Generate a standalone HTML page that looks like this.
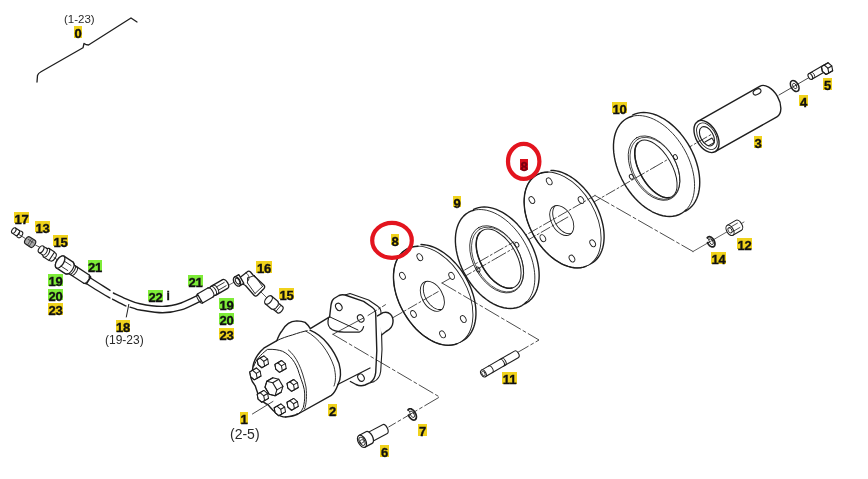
<!DOCTYPE html>
<html><head><meta charset="utf-8"><style>
html,body{margin:0;padding:0;background:#fff;}
body{width:868px;height:479px;position:relative;overflow:hidden;font-family:"Liberation Sans",sans-serif;}
.lb{position:absolute;font-weight:bold;font-size:13px;line-height:16px;text-align:center;letter-spacing:-0.2px;will-change:transform;-webkit-text-stroke:0.35px currentColor;}
.tx{position:absolute;font-size:13px;color:#2a2a2a;line-height:13px;white-space:nowrap;will-change:transform;}
svg{position:absolute;left:0;top:0;}
</style></head><body>
<svg width="868" height="479" viewBox="0 0 868 479" fill="none" stroke="#1e1e1e" stroke-width="1.2" stroke-linecap="round" stroke-linejoin="round">
<g transform="translate(706.50,136.50) rotate(-29.5)"><path d="M0 -17.5 L71 -17.5 A10.5 17.5 0 0 1 71 17.5 L0 17.5 Z" fill="#fff" stroke-width="1.4"/><path d="M0.00 -17.50 A10.50 17.50 0 1 1 0.00 17.50 A10.50 17.50 0 1 1 0.00 -17.50 Z" fill="#fff" stroke-width="1.4"/><path d="M0.50 -14.50 A8.70 14.50 0 1 1 0.50 14.50 A8.70 14.50 0 1 1 0.50 -14.50 Z" stroke-width="0.9"/><path d="M0.50 -10.50 A6.30 10.50 0 1 1 0.50 10.50 A6.30 10.50 0 1 1 0.50 -10.50 Z" stroke-width="1.1"/><path d="M-4 4 L4 4 L4 9 L-3 9" stroke-width="1.0"/><ellipse cx="66" cy="-14" rx="4.2" ry="2.6" stroke-width="1.1"/></g>
<path d="M654.0 167.4 L712.0 134.0" stroke-width="0.8" stroke-dasharray="10 2.5 2 2.5"/>
<g transform="translate(654.00,166.00) rotate(-30)"><path d="M6.00 -54.80 A34.52 54.80 0 1 1 6.00 54.80 A34.52 54.80 0 1 1 6.00 -54.80 Z M6.20 -28.50 A16.00 32.00 0 1 1 6.20 35.50 A16.00 32.00 0 1 1 6.20 -28.50 Z" fill="#fff" fill-rule="evenodd" stroke="none"/><path d="M7.20 -54.77 L9.91 -54.45 L12.59 -53.79 L15.23 -52.81 L17.81 -51.50 L20.32 -49.87 L22.74 -47.93 L25.06 -45.70 L27.26 -43.18 L29.32 -40.40 L31.25 -37.37 L33.02 -34.11 L34.62 -30.64 L36.05 -26.98 L37.29 -23.16 L38.34 -19.19 L39.19 -15.10 L39.83 -10.93 L40.27 -6.68 L40.49 -2.39 L40.50 1.91 L40.30 6.20 L39.89 10.46 L39.27 14.64 L38.44 18.74 L37.42 22.73 L36.20 26.57 L34.79 30.25 L33.21 33.74 L31.45 37.02 L29.55 40.08 L27.49 42.89 L25.31 45.43 L23.00 47.70 L20.59 49.67 L18.09 51.33 L15.52 52.68 L12.88 53.70 L10.21 54.39 L7.51 54.75 L4.80 54.77" stroke-width="1.4"/><path d="M0.00 -54.80 A34.52 54.80 0 1 1 0.00 54.80 A34.52 54.80 0 1 1 0.00 -54.80 Z M0.20 -28.50 A16.00 32.00 0 1 1 0.20 35.50 A16.00 32.00 0 1 1 0.20 -28.50 Z" stroke="none" fill="#fff" fill-rule="evenodd"/><path d="M6.00 53.97 L3.01 54.59 L0.00 54.80 L-3.01 54.59 L-6.00 53.97 L-8.94 52.93 L-11.81 51.50 L-14.59 49.67 L-17.26 47.46 L-19.80 44.89 L-22.19 41.98 L-24.41 38.75 L-26.45 35.22 L-28.28 31.43 L-29.90 27.40 L-31.29 23.16 L-32.44 18.74 L-33.35 14.18 L-34.00 9.52 L-34.39 4.78 L-34.52 0.00 L-34.39 -4.78 L-34.00 -9.52 L-33.35 -14.18 L-32.44 -18.74 L-31.29 -23.16 L-29.90 -27.40 L-28.28 -31.43 L-26.45 -35.22 L-24.41 -38.75 L-22.19 -41.98 L-19.80 -44.89 L-17.26 -47.46 L-14.59 -49.67 L-11.81 -51.50 L-8.94 -52.93 L-6.00 -53.97 L-3.01 -54.59 L-0.00 -54.80 L3.01 -54.59 L6.00 -53.97" stroke-width="1.4"/><path d="M6.00 -53.97 L8.35 -53.17 L10.67 -52.12 L12.93 -50.81 L15.13 -49.25 L17.26 -47.46 L19.31 -45.43 L21.26 -43.18 L23.10 -40.72 L24.83 -38.07 L26.45 -35.22 L27.93 -32.21 L29.28 -29.04 L30.48 -25.73 L31.54 -22.29 L32.44 -18.74 L33.19 -15.10 L33.77 -11.39 L34.19 -7.63 L34.44 -3.82 L34.52 0.00 L34.44 3.82 L34.19 7.63 L33.77 11.39 L33.19 15.10 L32.44 18.74 L31.54 22.29 L30.48 25.73 L29.28 29.04 L27.93 32.21 L26.45 35.22 L24.83 38.07 L23.10 40.72 L21.26 43.18 L19.31 45.43 L17.26 47.46 L15.13 49.25 L12.93 50.81 L10.67 52.12 L8.35 53.17 L6.00 53.97" stroke-width="0.8"/><path d="M-1.00 -33.20 A22.05 35.00 0 1 1 -1.00 36.80 A22.05 35.00 0 1 1 -1.00 -33.20 Z" stroke-width="0.8"/><path d="M-0.40 -31.30 A21.23 33.70 0 1 1 -0.40 36.10 A21.23 33.70 0 1 1 -0.40 -31.30 Z" stroke-width="0.7"/><path d="M0.20 -28.50 A16.00 32.00 0 1 1 0.20 35.50 A16.00 32.00 0 1 1 0.20 -28.50 Z" stroke-width="1.0"/><path d="M-2.58 35.01 L-3.67 34.55 L-4.74 33.93 L-5.79 33.17 L-6.81 32.26 L-7.80 31.21 L-8.75 30.03 L-9.65 28.72 L-10.51 27.28 L-11.31 25.73 L-12.06 24.07 L-12.74 22.31 L-13.37 20.46 L-13.93 18.52 L-14.42 16.52 L-14.84 14.44 L-15.18 12.32 L-15.45 10.15 L-15.64 7.95 L-15.76 5.73 L-15.80 3.50 L-15.76 1.27 L-15.64 -0.95 L-15.45 -3.15 L-15.18 -5.32 L-14.84 -7.44 L-14.42 -9.52 L-13.93 -11.52 L-13.37 -13.46 L-12.74 -15.31 L-12.06 -17.07 L-11.31 -18.73 L-10.51 -20.28 L-9.65 -21.72 L-8.75 -23.03 L-7.80 -24.21 L-6.81 -25.26 L-5.79 -26.17 L-4.74 -26.93 L-3.67 -27.55 L-2.58 -28.01" stroke-width="1.5"/><ellipse cx="23" cy="3" rx="1.8" ry="2.6" stroke-width="0.9"/><ellipse cx="-25" cy="-2" rx="1.8" ry="2.6" stroke-width="0.9"/></g>
<path d="M562.0 220.4 L654.0 167.4" stroke-width="0.8" stroke-dasharray="10 2.5 2 2.5"/>
<g transform="translate(562.60,220.00) rotate(-30)"><path d="M14.70 -48.86 L16.96 -47.41 L19.13 -45.70 L21.22 -43.73 L23.22 -41.53 L25.10 -39.10 L26.87 -36.45 L28.50 -33.60 L30.00 -30.56 L31.36 -27.36 L32.56 -24.01 L33.60 -20.53 L34.48 -16.93 L35.18 -13.24 L35.71 -9.48 L36.07 -5.66 L36.24 -1.81 L36.23 2.04 L36.05 5.89 L35.69 9.70 L35.14 13.46 L34.43 17.14 L33.54 20.73 L32.49 24.21 L31.28 27.56 L29.92 30.75 L28.41 33.77 L26.77 36.61 L24.99 39.24 L23.10 41.67 L21.10 43.86 L19.01 45.81 L16.82 47.50 L14.57 48.94 L12.25 50.11 L9.89 51.00 L7.49 51.61 L5.07 51.94 L2.64 51.98 L0.22 51.74 L-2.19 51.21" fill="#fff" stroke-width="1.4"/><path d="M0.00 -52.00 A32.76 52.00 0 1 1 0.00 52.00 A32.76 52.00 0 1 1 0.00 -52.00 Z M-1.00 -16.30 A10.27 16.30 0 1 1 -1.00 16.30 A10.27 16.30 0 1 1 -1.00 -16.30 Z" fill="#fff" fill-rule="evenodd" stroke-width="0.9"/><path d="M-2.86 51.80 L-5.62 51.23 L-8.34 50.29 L-11.00 48.98 L-13.59 47.32 L-16.07 45.31 L-18.44 42.98 L-20.67 40.34 L-22.76 37.41 L-24.68 34.20 L-26.42 30.75 L-27.97 27.07 L-29.32 23.20 L-30.45 19.16 L-31.37 14.99 L-32.06 10.70 L-32.52 6.34 L-32.74 1.93 L-32.72 -2.49 L-32.47 -6.90 L-31.98 -11.25 L-31.27 -15.53 L-30.32 -19.69 L-29.16 -23.71 L-27.78 -27.56 L-26.21 -31.20 L-24.44 -34.63 L-22.50 -37.80 L-20.39 -40.70 L-18.14 -43.30 L-15.76 -45.59 L-13.26 -47.55 L-10.67 -49.17 L-7.99 -50.43 L-5.27 -51.32 L-2.50 -51.85 L0.29 -52.00 L3.07 -51.77 L5.83 -51.17 L8.55 -50.20 L11.20 -48.86" stroke-width="1.4"/><path d="M0.72 16.05 L0.02 15.82 L-0.67 15.50 L-1.35 15.11 L-2.00 14.65 L-2.63 14.12 L-3.24 13.51 L-3.82 12.84 L-4.37 12.11 L-4.89 11.32 L-5.37 10.48 L-5.81 9.58 L-6.21 8.64 L-6.57 7.65 L-6.88 6.63 L-7.15 5.57 L-7.37 4.49 L-7.54 3.39 L-7.67 2.27 L-7.74 1.14 L-7.77 0.00 L-7.74 -1.14 L-7.67 -2.27 L-7.54 -3.39 L-7.37 -4.49 L-7.15 -5.57 L-6.88 -6.63 L-6.57 -7.65 L-6.21 -8.64 L-5.81 -9.58 L-5.37 -10.48 L-4.89 -11.32 L-4.37 -12.11 L-3.82 -12.84 L-3.24 -13.51 L-2.63 -14.12 L-2.00 -14.65 L-1.35 -15.11 L-0.67 -15.50 L0.02 -15.82 L0.72 -16.05" stroke-width="0.9"/><ellipse cx="7.74" cy="-40.16" rx="2.5" ry="3.7" stroke-width="0.9"/><ellipse cx="-16.65" cy="-32.64" rx="2.5" ry="3.7" stroke-width="0.9"/><ellipse cx="-26.20" cy="5.85" rx="2.5" ry="3.7" stroke-width="0.9"/><ellipse cx="-11.18" cy="38.06" rx="2.5" ry="3.7" stroke-width="0.9"/><ellipse cx="14.41" cy="35.22" rx="2.5" ry="3.7" stroke-width="0.9"/><ellipse cx="25.97" cy="-8.01" rx="2.5" ry="3.7" stroke-width="0.9"/></g>
<path d="M497.0 257.8 L562.0 220.4" stroke-width="0.8" stroke-dasharray="10 2.5 2 2.5"/>
<path d="M514.0 241.8 L595.0 195.5" stroke-width="0.8" stroke-dasharray="10 2.5 2 2.5"/>
<g transform="translate(495.10,259.00) rotate(-30)"><path d="M5.00 -53.70 A33.83 53.70 0 1 1 5.00 53.70 A33.83 53.70 0 1 1 5.00 -53.70 Z M8.20 -31.00 A17.88 32.50 0 1 1 8.20 34.00 A17.88 32.50 0 1 1 8.20 -31.00 Z" fill="#fff" fill-rule="evenodd" stroke="none"/><path d="M6.18 -53.67 L8.83 -53.35 L11.46 -52.71 L14.04 -51.75 L16.57 -50.46 L19.03 -48.86 L21.40 -46.97 L23.67 -44.78 L25.83 -42.32 L27.86 -39.59 L29.74 -36.62 L31.48 -33.43 L33.05 -30.03 L34.45 -26.44 L35.66 -22.69 L36.69 -18.81 L37.52 -14.80 L38.15 -10.71 L38.58 -6.54 L38.80 -2.34 L38.81 1.87 L38.61 6.08 L38.21 10.25 L37.60 14.35 L36.79 18.37 L35.78 22.27 L34.59 26.03 L33.21 29.64 L31.66 33.06 L29.94 36.28 L28.07 39.27 L26.06 42.03 L23.92 44.52 L21.66 46.74 L19.30 48.67 L16.85 50.30 L14.33 51.62 L11.74 52.62 L9.12 53.30 L6.48 53.65 L3.82 53.67" stroke-width="1.4"/><path d="M0.00 -53.70 A33.83 53.70 0 1 1 0.00 53.70 A33.83 53.70 0 1 1 0.00 -53.70 Z M3.20 -31.00 A17.88 32.50 0 1 1 3.20 34.00 A17.88 32.50 0 1 1 3.20 -31.00 Z" stroke="none" fill="#fff" fill-rule="evenodd"/><path d="M5.87 52.88 L2.95 53.50 L0.00 53.70 L-2.95 53.50 L-5.87 52.88 L-8.76 51.87 L-11.57 50.46 L-14.30 48.67 L-16.92 46.51 L-19.40 43.99 L-21.75 41.14 L-23.92 37.97 L-25.92 34.52 L-27.71 30.80 L-29.30 26.85 L-30.66 22.69 L-31.79 18.37 L-32.68 13.90 L-33.32 9.32 L-33.70 4.68 L-33.83 0.00 L-33.70 -4.68 L-33.32 -9.32 L-32.68 -13.90 L-31.79 -18.37 L-30.66 -22.69 L-29.30 -26.85 L-27.71 -30.80 L-25.92 -34.52 L-23.92 -37.97 L-21.75 -41.14 L-19.40 -43.99 L-16.92 -46.51 L-14.30 -48.67 L-11.57 -50.46 L-8.76 -51.87 L-5.87 -52.88 L-2.95 -53.50 L-0.00 -53.70 L2.95 -53.50 L5.87 -52.88" stroke-width="1.4"/><path d="M5.87 -52.88 L8.18 -52.10 L10.45 -51.07 L12.67 -49.79 L14.83 -48.27 L16.92 -46.51 L18.92 -44.52 L20.83 -42.32 L22.64 -39.91 L24.34 -37.30 L25.92 -34.52 L27.37 -31.56 L28.69 -28.46 L29.87 -25.21 L30.91 -21.84 L31.79 -18.37 L32.52 -14.80 L33.09 -11.16 L33.50 -7.47 L33.75 -3.75 L33.83 0.00 L33.75 3.75 L33.50 7.47 L33.09 11.16 L32.52 14.80 L31.79 18.37 L30.91 21.84 L29.87 25.21 L28.69 28.46 L27.37 31.56 L25.92 34.52 L24.34 37.30 L22.64 39.91 L20.83 42.32 L18.92 44.52 L16.92 46.51 L14.83 48.27 L12.67 49.79 L10.45 51.07 L8.18 52.10 L5.87 52.88" stroke-width="0.8"/><path d="M1.20 -35.50 A23.00 36.50 0 1 1 1.20 37.50 A23.00 36.50 0 1 1 1.20 -35.50 Z" stroke-width="0.8"/><path d="M1.80 -33.60 A22.18 35.20 0 1 1 1.80 36.80 A22.18 35.20 0 1 1 1.80 -33.60 Z" stroke-width="0.7"/><path d="M3.20 -31.00 A17.88 32.50 0 1 1 3.20 34.00 A17.88 32.50 0 1 1 3.20 -31.00 Z" stroke-width="1.0"/><path d="M0.10 33.51 L-1.12 33.03 L-2.32 32.41 L-3.50 31.63 L-4.64 30.71 L-5.74 29.65 L-6.80 28.44 L-7.80 27.11 L-8.76 25.65 L-9.66 24.08 L-10.49 22.39 L-11.26 20.60 L-11.96 18.72 L-12.58 16.76 L-13.13 14.72 L-13.60 12.62 L-13.98 10.46 L-14.28 8.26 L-14.50 6.02 L-14.63 3.77 L-14.68 1.50 L-14.63 -0.77 L-14.50 -3.02 L-14.28 -5.26 L-13.98 -7.46 L-13.60 -9.62 L-13.13 -11.72 L-12.58 -13.76 L-11.96 -15.72 L-11.26 -17.60 L-10.49 -19.39 L-9.66 -21.08 L-8.76 -22.65 L-7.80 -24.11 L-6.80 -25.44 L-5.74 -26.65 L-4.64 -27.71 L-3.50 -28.63 L-2.32 -29.41 L-1.12 -30.03 L0.10 -30.51" stroke-width="1.5"/><ellipse cx="26" cy="-1.5" rx="1.8" ry="2.6" stroke-width="0.9"/><ellipse cx="-20" cy="0.5" rx="1.8" ry="2.6" stroke-width="0.9"/></g>
<path d="M433.0 294.6 L497.0 257.8" stroke-width="0.8" stroke-dasharray="10 2.5 2 2.5"/>
<path d="M450.0 278.4 L514.0 241.8" stroke-width="0.8" stroke-dasharray="10 2.5 2 2.5"/>
<g transform="translate(433.20,295.80) rotate(-30)"><path d="M15.07 -50.46 L17.40 -48.96 L19.64 -47.19 L21.80 -45.16 L23.86 -42.89 L25.81 -40.37 L27.63 -37.64 L29.32 -34.70 L30.87 -31.56 L32.27 -28.26 L33.51 -24.80 L34.58 -21.20 L35.49 -17.48 L36.22 -13.67 L36.76 -9.79 L37.13 -5.85 L37.31 -1.87 L37.30 2.11 L37.11 6.08 L36.74 10.02 L36.18 13.90 L35.44 17.70 L34.53 21.41 L33.44 25.00 L32.19 28.46 L30.78 31.75 L29.23 34.88 L27.53 37.81 L25.70 40.53 L23.74 43.03 L21.68 45.29 L19.51 47.30 L17.26 49.06 L14.93 50.54 L12.54 51.75 L10.10 52.67 L7.62 53.30 L5.12 53.64 L2.61 53.68 L0.11 53.43 L-2.37 52.88" fill="#fff" stroke-width="1.4"/><path d="M0.00 -53.70 A33.83 53.70 0 1 1 0.00 53.70 A33.83 53.70 0 1 1 0.00 -53.70 Z M-1.00 -16.30 A10.27 16.30 0 1 1 -1.00 16.30 A10.27 16.30 0 1 1 -1.00 -16.30 Z" fill="#fff" fill-rule="evenodd" stroke-width="0.9"/><path d="M-2.95 53.50 L-5.80 52.90 L-8.61 51.93 L-11.36 50.58 L-14.03 48.86 L-16.59 46.80 L-19.04 44.39 L-21.35 41.66 L-23.50 38.63 L-25.48 35.32 L-27.28 31.75 L-28.88 27.96 L-30.28 23.96 L-31.45 19.79 L-32.40 15.48 L-33.11 11.05 L-33.58 6.54 L-33.81 1.99 L-33.79 -2.58 L-33.53 -7.13 L-33.03 -11.62 L-32.29 -16.04 L-31.31 -20.33 L-30.11 -24.48 L-28.69 -28.46 L-27.06 -32.22 L-25.24 -35.76 L-23.23 -39.03 L-21.06 -42.03 L-18.73 -44.71 L-16.27 -47.08 L-13.69 -49.10 L-11.01 -50.77 L-8.26 -52.08 L-5.44 -53.00 L-2.58 -53.54 L0.30 -53.70 L3.17 -53.46 L6.02 -52.84 L8.83 -51.84 L11.57 -50.46" stroke-width="1.4"/><path d="M0.72 16.05 L0.02 15.82 L-0.67 15.50 L-1.35 15.11 L-2.00 14.65 L-2.63 14.12 L-3.24 13.51 L-3.82 12.84 L-4.37 12.11 L-4.89 11.32 L-5.37 10.48 L-5.81 9.58 L-6.21 8.64 L-6.57 7.65 L-6.88 6.63 L-7.15 5.57 L-7.37 4.49 L-7.54 3.39 L-7.67 2.27 L-7.74 1.14 L-7.77 0.00 L-7.74 -1.14 L-7.67 -2.27 L-7.54 -3.39 L-7.37 -4.49 L-7.15 -5.57 L-6.88 -6.63 L-6.57 -7.65 L-6.21 -8.64 L-5.81 -9.58 L-5.37 -10.48 L-4.89 -11.32 L-4.37 -12.11 L-3.82 -12.84 L-3.24 -13.51 L-2.63 -14.12 L-2.00 -14.65 L-1.35 -15.11 L-0.67 -15.50 L0.02 -15.82 L0.72 -16.05" stroke-width="0.9"/><ellipse cx="7.74" cy="-40.16" rx="2.5" ry="3.7" stroke-width="0.9"/><ellipse cx="-16.65" cy="-32.64" rx="2.5" ry="3.7" stroke-width="0.9"/><ellipse cx="-26.20" cy="5.85" rx="2.5" ry="3.7" stroke-width="0.9"/><ellipse cx="-11.18" cy="38.06" rx="2.5" ry="3.7" stroke-width="0.9"/><ellipse cx="14.41" cy="35.22" rx="2.5" ry="3.7" stroke-width="0.9"/><ellipse cx="25.97" cy="-8.01" rx="2.5" ry="3.7" stroke-width="0.9"/></g>
<path d="M393.4 317.4 L433.0 294.6" stroke-width="0.8" stroke-dasharray="10 2.5 2 2.5"/>
<path d="M442.0 283.0 L450.0 278.4" stroke-width="0.8" stroke-dasharray="10 2.5 2 2.5"/>
<path d="M779 95 L810 77" stroke-width="0.8"/>
<path d="M442 283 L539 340 L517.5 352.5" stroke-width="0.8" stroke-dasharray="16 3 3 3"/>
<path d="M595 195.5 L693 251.5" stroke-width="0.8" stroke-dasharray="16 3 3 3"/>
<path d="M693 251.5 L744 222" stroke-width="0.7"/>
<path d="M345 295 L350 293.5 L368.6 300 L377.4 306 C379.5 307.5 381 309.5 381 312.5 L382 349.5 L380.7 371.2 C380 376.5 378 379.5 374 381.6 L370.2 382.6" fill="#fff" stroke-width="1.1"/>
<path d="M329.6 316.8 L331 305 C331.5 301 332 300 334 298.5 L339 295.5 C341 294.5 343 294.5 345 295 L363.6 301.4 L372.4 307.5 C374.5 309 375.7 311 375.7 314 L376.8 350.8 L375.7 372.7 C375 378 373 381 370.2 382.6 L365 385 C362 386.2 359 386 356 384.5 L350.4 381.5" fill="#fff" stroke-width="1.4"/>
<path d="M377.5 315.9 L383 312.7 C389 310.5 393.5 316 393 322 C392.7 327 390 329.5 386 331.5 L381.9 334.7" fill="#fff" stroke-width="1.4"/>
<ellipse cx="338.8" cy="306.9" rx="3" ry="3.9" transform="rotate(-30 338.8 306.9)" stroke-width="1.1"/>
<ellipse cx="360.7" cy="318.4" rx="3" ry="3.9" transform="rotate(-30 360.7 318.4)" stroke-width="1.1"/>
<ellipse cx="361" cy="377.6" rx="3" ry="3.9" transform="rotate(-30 361 377.6)" stroke-width="1.1"/>
<path d="M252.5 370 C253 362 256 355 263.8 348.2 L276.9 340.6 C278.5 336 280 333 282.1 330.7 C284 327.5 286 325 288.4 323.4 C291 321.5 294 321 296.8 320.9 C300 321 303 321.5 305.1 322.4 C307 324 309 326.5 310.3 328.6 L329.6 316.8" stroke-width="1.4"/>
<path d="M329.6 316.8 L358 330" stroke-width="1.0"/>
<path d="M328.5 318 C327.5 322 328 325.5 330 328 C333 331 338 332 343.9 332.1 L359.2 332.1 C361.5 331.5 363 329 363.6 326.7" stroke-width="1.2"/>
<path d="M276 341.1 C282 338 287 336.5 292.6 334.9 C298 333 303 331.5 307.2 330.7" stroke-width="1.0"/>
<path d="M310 330.2 C324 336 334 350 339 363.4 C341.3 372 341 379 338 384.5" stroke-width="1.4"/>
<path d="M306 331.2 C319 338 329 352 334 366.7 C336 375 336 381 334 386" stroke-width="0.9"/>
<path d="M285.7 417 C291 416.5 295 415.5 298 414 L331.3 395.3 C334 393.5 336 390 338 384.5" stroke-width="1.4"/>
<path d="M337.6 384.5 L370 368" stroke-width="1.3"/>
<path d="M252.5 370 C249.5 376 250.4 380 255.2 385.8 C257 391 258 395 260 398 C263 402 266 404 268 404.7 C271 408 273 411 276.2 412.9 C279 415.5 282 417 285.7 417" stroke-width="1.4"/>
<path d="M253.8 366.3 C256 360 260 355 267.5 349.4 C274 349 279 350 282.6 351.3 C290 355 296 362 299.2 373.6 C302 382 304.7 388 304.7 393.9 C305 400 304 404 303.3 407.5 C301 412 299 414 296.5 414.2" stroke-width="1.0"/>
<path d="M288.4 350 C296 356 302 368 306 387 C307 396 306.5 404 304.5 409" stroke-width="0.9"/>
<g transform="translate(257.30,372.80) rotate(-30)" stroke-width="1.0"><path d="M-7.79 0.00 L-6.14 -4.59 L1.64 -4.59 L3.29 0.00 L1.64 4.59 L-6.14 4.59 Z" fill="#fff"/><path d="M-1.21 0.00 L-2.86 4.59 L-6.14 4.59 L-7.79 0.00 L-6.14 -4.59 L-2.86 -4.59 Z"/><path d="M-1.21 0.00 L3.29 0.00"/><path d="M-2.86 4.59 L1.64 4.59"/><path d="M-2.86 -4.59 L1.64 -4.59"/></g>
<g transform="translate(264.80,360.70) rotate(-30)" stroke-width="1.0"><path d="M-7.79 0.00 L-6.14 -4.59 L1.64 -4.59 L3.29 0.00 L1.64 4.59 L-6.14 4.59 Z" fill="#fff"/><path d="M-1.21 0.00 L-2.86 4.59 L-6.14 4.59 L-7.79 0.00 L-6.14 -4.59 L-2.86 -4.59 Z"/><path d="M-1.21 0.00 L3.29 0.00"/><path d="M-2.86 4.59 L1.64 4.59"/><path d="M-2.86 -4.59 L1.64 -4.59"/></g>
<g transform="translate(282.50,365.30) rotate(-30)" stroke-width="1.0"><path d="M-7.79 0.00 L-6.14 -4.59 L1.64 -4.59 L3.29 0.00 L1.64 4.59 L-6.14 4.59 Z" fill="#fff"/><path d="M-1.21 0.00 L-2.86 4.59 L-6.14 4.59 L-7.79 0.00 L-6.14 -4.59 L-2.86 -4.59 Z"/><path d="M-1.21 0.00 L3.29 0.00"/><path d="M-2.86 4.59 L1.64 4.59"/><path d="M-2.86 -4.59 L1.64 -4.59"/></g>
<g transform="translate(294.60,384.30) rotate(-30)" stroke-width="1.0"><path d="M-7.79 0.00 L-6.14 -4.59 L1.64 -4.59 L3.29 0.00 L1.64 4.59 L-6.14 4.59 Z" fill="#fff"/><path d="M-1.21 0.00 L-2.86 4.59 L-6.14 4.59 L-7.79 0.00 L-6.14 -4.59 L-2.86 -4.59 Z"/><path d="M-1.21 0.00 L3.29 0.00"/><path d="M-2.86 4.59 L1.64 4.59"/><path d="M-2.86 -4.59 L1.64 -4.59"/></g>
<g transform="translate(264.80,395.20) rotate(-30)" stroke-width="1.0"><path d="M-7.79 0.00 L-6.14 -4.59 L1.64 -4.59 L3.29 0.00 L1.64 4.59 L-6.14 4.59 Z" fill="#fff"/><path d="M-1.21 0.00 L-2.86 4.59 L-6.14 4.59 L-7.79 0.00 L-6.14 -4.59 L-2.86 -4.59 Z"/><path d="M-1.21 0.00 L3.29 0.00"/><path d="M-2.86 4.59 L1.64 4.59"/><path d="M-2.86 -4.59 L1.64 -4.59"/></g>
<g transform="translate(294.60,403.20) rotate(-30)" stroke-width="1.0"><path d="M-7.79 0.00 L-6.14 -4.59 L1.64 -4.59 L3.29 0.00 L1.64 4.59 L-6.14 4.59 Z" fill="#fff"/><path d="M-1.21 0.00 L-2.86 4.59 L-6.14 4.59 L-7.79 0.00 L-6.14 -4.59 L-2.86 -4.59 Z"/><path d="M-1.21 0.00 L3.29 0.00"/><path d="M-2.86 4.59 L1.64 4.59"/><path d="M-2.86 -4.59 L1.64 -4.59"/></g>
<g transform="translate(281.80,408.70) rotate(-30)" stroke-width="1.0"><path d="M-7.79 0.00 L-6.14 -4.59 L1.64 -4.59 L3.29 0.00 L1.64 4.59 L-6.14 4.59 Z" fill="#fff"/><path d="M-1.21 0.00 L-2.86 4.59 L-6.14 4.59 L-7.79 0.00 L-6.14 -4.59 L-2.86 -4.59 Z"/><path d="M-1.21 0.00 L3.29 0.00"/><path d="M-2.86 4.59 L1.64 4.59"/><path d="M-2.86 -4.59 L1.64 -4.59"/></g>
<g transform="translate(277.00,385.00) rotate(-30)" stroke-width="1.1"><path d="M-11.46 -4.15 L-7.00 -8.30 L-0.00 -8.30 L4.46 -4.15 L4.46 4.15 L0.00 8.30 L-7.00 8.30 L-11.46 4.15 Z" fill="#fff"/><path d="M-2.54 4.15 L-7.00 8.30 L-11.46 4.15 L-11.46 -4.15 L-7.00 -8.30 L-2.54 -4.15 Z"/><path d="M-2.54 4.15 L4.46 4.15"/><path d="M-7.00 8.30 L0.00 8.30"/><path d="M-7.00 -8.30 L-0.00 -8.30"/><path d="M-2.54 -4.15 L4.46 -4.15"/></g>
<path d="M19 234.5 L25 238.3 M35.7 245.2 L39.4 247 M54 257.5 L59 261" stroke-width="0.8"/>
<g transform="translate(16.5,232.3) rotate(33) scale(0.8)"><path d="M-4 -3.8 L3 -3.8 L3 3.8 L-4 3.8" fill="#fff" stroke-width="1.4"/><ellipse cx="-4" cy="0" rx="2.3" ry="3.8" fill="#fff" stroke-width="1.4"/><path d="M1.5 -3.8 A2.3 3.8 0 0 1 1.5 3.8" stroke-width="1.1"/><path d="M4 -4.4 L5.5 -4.4 A2.5 4.4 0 0 1 5.5 4.4 L4 4.4" stroke-width="1.3"/></g>
<g transform="translate(30.3,242.2) rotate(33) scale(0.82)"><path d="M-4 -5 L3.5 -5 A2.8 5 0 0 1 3.5 5 L-4 5 A2.8 5 0 0 1 -4 -5 Z" fill="#aaa" stroke-width="1.4"/><path d="M-1 -5 L-1 5 M1.5 -5 L1.5 5 M-4 -1.5 L3.5 -1.5" stroke="#333" stroke-width="0.8"/></g>
<g transform="translate(47.5,253.5) rotate(33) scale(0.85)"><path d="M-9 -4.5 L-4 -4.5 L-2 -6 L6 -6 L6 6 L-2 6 L-4 4.5 L-9 4.5" fill="#fff" stroke-width="1.3"/><ellipse cx="-9" cy="0" rx="2.7" ry="4.5" fill="#fff" stroke-width="1.3"/><path d="M-4.5 -4.8 A2.8 4.8 0 0 1 -4.5 4.8 M-2 -6 A3.3 6 0 0 1 -2 6" stroke-width="1.1"/><path d="M6.5 -5.5 L7.5 -5.5 A3 5.5 0 0 1 7.5 5.5 L6.5 5.5" stroke-width="1.3"/></g>
<g transform="translate(66,265.8) rotate(33)"><path d="M-7 -7 L4 -7 L7 -5 L24 -5 L27 -4 L27 4 L24 5 L7 5 L4 7 L-7 7 A3.5 7 0 0 1 -7 -7 Z" fill="#fff" stroke-width="1.3"/><ellipse cx="-7" cy="0" rx="3.5" ry="7" fill="#fff" stroke-width="1.3"/><path d="M4 -7 A3.5 7 0 0 1 4 7 M7 -5 A2.5 5 0 0 1 7 5 M9.5 -5 A2.5 5 0 0 1 9.5 5 M24 -5 A2.5 5 0 0 1 24 5" stroke-width="1.0"/><path d="M-4 -3 L4 -3 M-4 3 L4 3" stroke-width="0.8"/></g>
<path d="M89.00 277.00 C90.83 278.17 96.50 281.77 100.00 284.00 C103.50 286.23 108.33 289.33 110.00 290.40" stroke-width="1.4"/>
<path d="M113.40 293.00 C115.50 293.97 121.57 297.00 126.00 298.80 C130.43 300.60 133.90 302.53 140.00 303.80 C146.10 305.07 155.77 306.53 162.60 306.40 C169.43 306.27 174.85 304.98 181.00 303.00 C187.15 301.02 196.42 295.92 199.50 294.50" stroke-width="1.4"/>
<path d="M87.00 284.00 C89.00 285.25 95.17 289.17 99.00 291.50 C102.83 293.83 108.17 296.92 110.00 298.00" stroke-width="1.4"/>
<path d="M112.50 299.20 C113.58 299.77 116.77 301.48 119.00 302.60 C121.23 303.72 124.75 305.35 125.90 305.90" stroke-width="1.4"/>
<path d="M130.00 307.10 C130.83 307.35 133.33 308.12 135.00 308.60 C136.67 309.08 135.40 309.30 140.00 310.00 C144.60 310.70 155.77 312.82 162.60 312.80 C169.43 312.78 174.68 311.83 181.00 309.90 C187.32 307.97 197.25 302.65 200.50 301.20" stroke-width="1.4"/>
<path d="M128.8 304.4 L126.3 317" stroke-width="1.0"/>
<g transform="translate(200,298.5) rotate(-30)"><path d="M0 -5.2 L12 -5.2 L14 -4.5 L15 -5 L29 -5 A2.8 5 0 0 1 29 5 L15 5 L14 4.5 L12 5.2 L0 5.2 Z" fill="#fff" stroke-width="1.3"/><path d="M0 -5.2 A2.2 5.2 0 0 0 0 5.2 M12 -5.2 A2.6 5.2 0 0 1 12 5.2 M15 -5 A2.8 5 0 0 1 15 5 M17.5 -5 A2.8 5 0 0 1 17.5 5" stroke-width="1.0"/><path d="M20 -1.8 L29 -1.8 M20 2 L29 2" stroke-width="0.8"/></g>
<path d="M229 285 L238 280" stroke-width="0.7"/>
<path d="M240 277.5 L247 272 C248 271 249.5 271 250.5 272 L253 275 L263.8 285 C264.8 286 264.8 287.5 264 288.5 L257.5 295.2 C256.5 296.2 255 296.2 254 295.3 L245.5 285.5 L241 283" fill="#fff" stroke-width="1.3"/>
<path d="M247.5 278 L254.5 275.5 M254.5 275.5 L262.5 286.5 M262.5 286.5 L255 293.5 M255 293.5 L247.5 283 M247.5 278 L247.5 283" stroke-width="0.9"/>
<path d="M246 272.8 C249 275 250 278 248 281" stroke-width="0.9"/>
<g transform="translate(237,281.5) rotate(-30)"><path d="M0 -5 L5 -5 L5 5 L0 5" fill="#fff" stroke-width="1.3"/><ellipse cx="0" cy="0" rx="3" ry="5" fill="#fff" stroke-width="1.4"/><ellipse cx="0.6" cy="0" rx="1.8" ry="3.2" stroke-width="1.0"/></g>
<path d="M261 292 L267 298" stroke-width="0.7"/>
<g transform="translate(268.5,300) rotate(40)"><path d="M0 -5 L8 -5 L10 -4 L15 -4 A2.2 4 0 0 1 15 4 L10 4 L8 5 L0 5 Z" fill="#fff" stroke-width="1.2"/><ellipse cx="0" cy="0" rx="2.8" ry="5" fill="#fff" stroke-width="1.2"/><path d="M8 -5 A2.8 5 0 0 1 8 5 M11 -4 L11 4 M13 -4 L13 4" stroke-width="0.8"/></g>
<g transform="translate(362,441.3) rotate(-28)"><path d="M8 -5 L26 -5 A2.6 5 0 0 1 26 5 L8 5" fill="#fff" stroke-width="1.1"/><path d="M0 -6.6 L8 -6.6 A3.6 6.6 0 0 1 8 6.6 L0 6.6" fill="#fff" stroke-width="1.2"/><ellipse cx="0" cy="0" rx="3.8" ry="6.6" fill="#fff" stroke-width="1.2"/><ellipse cx="0" cy="0" rx="2.6" ry="4.4" stroke-width="0.9"/><path d="M-1.5 -1.5 L1.5 -1.5 L1.5 1.5 L-1.5 1.5Z" stroke-width="0.7"/></g>
<g transform="translate(412,414.4) rotate(-30)"><path d="M-1.23 -5.83 L-0.78 -6.05 L-0.31 -6.18 L0.16 -6.19 L0.63 -6.11 L1.08 -5.91 L1.52 -5.62 L1.93 -5.23 L2.31 -4.75 L2.65 -4.19 L2.95 -3.56 L3.19 -2.86 L3.38 -2.12 L3.51 -1.34 L3.59 -0.54 L3.60 0.27 L3.55 1.08 L3.43 1.86 L3.26 2.62 L3.04 3.33 L2.76 3.99 L2.43 4.57 L2.06 5.08 L1.66 5.50 L1.23 5.83 L0.78 6.05 L0.31 6.18 L-0.16 6.19 L-0.63 6.11 L-1.08 5.91 L-1.52 5.62 L-1.93 5.23 L-2.31 4.75 L-2.65 4.19 L-2.95 3.56 L-3.19 2.86 L-3.38 2.12 L-3.51 1.34 L-3.59 0.54 L-3.60 -0.27 L-3.55 -1.08" stroke-width="1.7"/><ellipse cx="0.3" cy="0" rx="1.80" ry="3.60" stroke-width="0.8"/><path d="M-1.23 -5.83 L-0.62 -3.38 M-3.55 -1.08 L-1.77 -0.62" stroke-width="0.9"/></g>
<g transform="translate(483.4,373.4) rotate(-30)"><path d="M0 -3.8 L38 -3.8 A2.4 3.8 0 0 1 38 3.8 L0 3.8" fill="#fff" stroke-width="1.1"/><ellipse cx="0" cy="0" rx="2.4" ry="3.8" fill="#fff" stroke-width="1.1"/><ellipse cx="0" cy="0" rx="1.4" ry="2.4" stroke-width="0.7"/><path d="M8 -3.8 A2.4 3.8 0 0 1 8 3.8 M21 -4 A2.4 4 0 0 1 21 4 M23 -4 A2.4 4 0 0 1 23 4" stroke-width="0.9"/></g>
<g transform="translate(710.9,241.8) rotate(-30)"><path d="M-1.16 -5.26 L-0.74 -5.47 L-0.30 -5.58 L0.15 -5.59 L0.59 -5.51 L1.02 -5.34 L1.44 -5.08 L1.83 -4.72 L2.19 -4.29 L2.51 -3.78 L2.79 -3.21 L3.02 -2.59 L3.19 -1.92 L3.32 -1.21 L3.39 -0.49 L3.40 0.24 L3.35 0.97 L3.24 1.68 L3.08 2.37 L2.87 3.01 L2.60 3.60 L2.30 4.13 L1.95 4.59 L1.57 4.97 L1.16 5.26 L0.74 5.47 L0.30 5.58 L-0.15 5.59 L-0.59 5.51 L-1.02 5.34 L-1.44 5.08 L-1.83 4.72 L-2.19 4.29 L-2.51 3.78 L-2.79 3.21 L-3.02 2.59 L-3.19 1.92 L-3.32 1.21 L-3.39 0.49 L-3.40 -0.24 L-3.35 -0.97" stroke-width="1.7"/><ellipse cx="0.3" cy="0" rx="1.70" ry="3.25" stroke-width="0.8"/><path d="M-1.16 -5.26 L-0.58 -3.05 M-3.35 -0.97 L-1.67 -0.56" stroke-width="0.9"/></g>
<g transform="translate(730,230.3) rotate(-30)"><path d="M0 -5.7 L10 -5.7 A3.3 5.7 0 0 1 10 5.7 L0 5.7" fill="#fff" stroke-width="1.1"/><ellipse cx="0" cy="0" rx="3.3" ry="5.7" fill="#fff" stroke-width="1.1"/><ellipse cx="0" cy="0" rx="1.8" ry="3" stroke-width="0.8"/><path d="M0 -2.5 L10 -2.5 M0 2.5 L10 2.5" stroke-width="0.7"/></g>
<g transform="translate(794.7,86) rotate(-30)"><ellipse cx="0" cy="0" rx="3.7" ry="6" stroke-width="1.5"/><ellipse cx="0" cy="0" rx="1.7" ry="3" stroke-width="0.8"/></g>
<g transform="translate(810.3,76.5) rotate(-30)"><path d="M0 -3.2 L14.5 -3.2 L14.5 3.2 L0 3.2" fill="#fff" stroke-width="1.1"/><ellipse cx="0" cy="0" rx="1.9" ry="3.2" fill="#fff" stroke-width="1.1"/><path d="M2.5 -3.2 A1.9 3.2 0 0 1 2.5 3.2" stroke-width="0.8"/></g>
<g transform="translate(829.00,67.50) rotate(-30)" stroke-width="1.1"><path d="M-7.68 0.00 L-6.09 -4.59 L1.59 -4.59 L3.18 0.00 L1.59 4.59 L-6.09 4.59 Z" fill="#fff"/><path d="M-1.32 0.00 L-2.91 4.59 L-6.09 4.59 L-7.68 0.00 L-6.09 -4.59 L-2.91 -4.59 Z"/><path d="M-1.32 0.00 L3.18 0.00"/><path d="M-2.91 4.59 L1.59 4.59"/><path d="M-2.91 -4.59 L1.59 -4.59"/></g>
<path d="M37 82 L37.5 75.5 Q38 73.5 41 71.8 L83 47.8 L84 43.5 Q86 45 88.5 45 L131 18 L137 22" stroke-width="1.3"/>
<path d="M252.4 414 L273 401.4" stroke-width="0.8"/>
<path d="M332.9 334.3 L439.6 397 L388.8 426.9" stroke-width="0.8" stroke-dasharray="16 3 3 3"/>
<path d="M332.9 334.3 L363.6 317.9" stroke-width="0.8"/>
<path d="M368 315.5 L385.5 304.7" stroke-width="0.8" stroke-dasharray="10 2.5 2 2.5"/>
<ellipse cx="392" cy="240.4" rx="19.8" ry="17.5" stroke="#e3141e" stroke-width="4.2"/>
<ellipse cx="523.7" cy="161.4" rx="15.7" ry="17.5" stroke="#e3141e" stroke-width="4.2"/>
</svg>
<div class="lb" style="left:74px;top:26px;width:8px;height:12px;background:#f0d21c;color:#111">0</div><div class="lb" style="left:14px;top:212px;width:15px;height:11px;background:#f0d21c;color:#111">17</div><div class="lb" style="left:35px;top:221px;width:15px;height:11px;background:#f0d21c;color:#111">13</div><div class="lb" style="left:53px;top:235px;width:15px;height:11px;background:#f0d21c;color:#111">15</div><div class="lb" style="left:88px;top:260px;width:14px;height:11px;background:#7eec38;color:#111">21</div><div class="lb" style="left:48px;top:274px;width:15px;height:12px;background:#7eec38;color:#111">19</div><div class="lb" style="left:48px;top:289px;width:15px;height:11px;background:#7eec38;color:#111">20</div><div class="lb" style="left:48px;top:303px;width:15px;height:12px;background:#f0d21c;color:#111">23</div><div class="lb" style="left:116px;top:320px;width:14px;height:12px;background:#f0d21c;color:#111">18</div><div class="lb" style="left:256px;top:261px;width:16px;height:12px;background:#f0d21c;color:#111">16</div><div class="lb" style="left:279px;top:288px;width:15px;height:11px;background:#f0d21c;color:#111">15</div><div class="lb" style="left:188px;top:275px;width:15px;height:11px;background:#7eec38;color:#111">21</div><div class="lb" style="left:148px;top:290px;width:15px;height:11px;background:#7eec38;color:#111">22</div><div class="lb" style="left:219px;top:298px;width:15px;height:11px;background:#7eec38;color:#111">19</div><div class="lb" style="left:219px;top:313px;width:15px;height:11px;background:#7eec38;color:#111">20</div><div class="lb" style="left:219px;top:328px;width:15px;height:11px;background:#f0d21c;color:#111">23</div><div class="lb" style="left:240px;top:412px;width:8px;height:12px;background:#f0d21c;color:#111">1</div><div class="lb" style="left:328px;top:404px;width:9px;height:12px;background:#f0d21c;color:#111">2</div><div class="lb" style="left:418px;top:424px;width:9px;height:12px;background:#f0d21c;color:#111">7</div><div class="lb" style="left:380px;top:445px;width:9px;height:12px;background:#f0d21c;color:#111">6</div><div class="lb" style="left:391px;top:234px;width:8px;height:11px;background:#f0d21c;color:#111">8</div><div class="lb" style="left:453px;top:196px;width:8px;height:11px;background:#f0d21c;color:#111">9</div><div class="lb" style="left:520px;top:159px;width:8px;height:11px;background:#d8101c;color:#7a0010">8</div><div class="lb" style="left:612px;top:102px;width:15px;height:11px;background:#f0d21c;color:#111">10</div><div class="lb" style="left:823px;top:78px;width:9px;height:12px;background:#f0d21c;color:#111">5</div><div class="lb" style="left:799px;top:95px;width:9px;height:11px;background:#f0d21c;color:#111">4</div><div class="lb" style="left:754px;top:136px;width:8px;height:12px;background:#f0d21c;color:#111">3</div><div class="lb" style="left:737px;top:238px;width:15px;height:11px;background:#f0d21c;color:#111">12</div><div class="lb" style="left:711px;top:252px;width:15px;height:12px;background:#f0d21c;color:#111">14</div><div class="lb" style="left:502px;top:372px;width:15px;height:12px;background:#f0d21c;color:#111">11</div>
<div class="tx" style="left:64px;top:13px;font-size:11.5px">(1-23)</div>
<div class="tx" style="left:105px;top:334px;font-size:12px">(19-23)</div>
<div class="tx" style="left:230px;top:427px;font-size:14px;line-height:14px">(2-5)</div>
<div class="lb" style="left:165px;top:288px;width:6px;height:11px;background:none;color:#111;font-size:12px">i</div>
</body></html>
